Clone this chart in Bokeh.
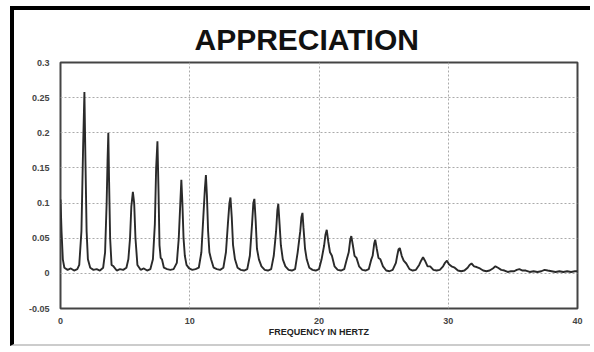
from bokeh.plotting import figure
from bokeh.models import Range1d, FixedTicker, CustomJSTickFormatter, ColumnDataSource
from bokeh.embed import file_html
from bokeh.resources import INLINE

title_text = "APPRECIATION"
x_label = "FREQUENCY IN HERTZ"
x_ticks = [0, 10, 20, 30, 40]
y_ticks = [-0.05, 0, 0.05, 0.1, 0.15, 0.2, 0.25, 0.3]

freq = [
    0, 0.08, 0.18, 0.3, 0.55, 0.8, 1.05, 1.3, 1.45, 1.62, 1.75, 1.85, 1.93, 2.02, 2.12, 2.3, 2.55, 2.8, 3.05, 3.3,
    3.45, 3.57, 3.64, 3.7, 3.76, 3.84, 3.95, 4.1, 4.35, 4.6, 4.85, 5.1, 5.25,
    5.38, 5.48, 5.6, 5.7, 5.8, 5.95, 6.2, 6.45, 6.7, 6.95, 7.15,
    7.3, 7.4, 7.5, 7.58, 7.66, 7.75, 7.85, 8.0, 8.25, 8.5, 8.75, 9.0,
    9.15, 9.27, 9.35, 9.43, 9.52, 9.62, 9.75, 9.95, 10.2, 10.45, 10.7, 10.9,
    11.05, 11.17, 11.25, 11.33, 11.42, 11.52, 11.65, 11.85, 12.1, 12.35, 12.6, 12.8,
    12.95, 13.07, 13.15, 13.25, 13.35, 13.5, 13.7, 13.95, 14.2, 14.45, 14.65,
    14.82, 14.92, 15.0, 15.1, 15.2, 15.35, 15.55, 15.8, 16.05, 16.3, 16.5,
    16.68, 16.78, 16.85, 16.95, 17.05, 17.2, 17.4, 17.65, 17.9, 18.15, 18.35,
    18.55, 18.64, 18.72, 18.8, 18.92, 19.05, 19.25, 19.5, 19.75, 20.0, 20.2,
    20.4, 20.5, 20.6, 20.72, 20.85, 21.0, 21.2, 21.45, 21.7, 21.95, 22.15,
    22.3, 22.42, 22.5, 22.62, 22.75, 22.9, 23.1, 23.35, 23.6, 23.85, 24.05,
    24.15, 24.27, 24.35, 24.47, 24.6, 24.75, 24.95, 25.2, 25.45, 25.7, 25.95,
    26.05, 26.15, 26.25, 26.4, 26.55, 26.75, 27.0, 27.25, 27.5, 27.75,
    27.9, 28.05, 28.2, 28.4, 28.6, 28.85, 29.1, 29.35, 29.6,
    29.75, 29.9, 30.05, 30.25, 30.5, 30.75, 31.0, 31.25, 31.5,
    31.65, 31.8, 32.0, 32.2, 32.45, 32.7, 32.95, 33.2, 33.45,
    33.65, 33.85, 34.1, 34.35, 34.6, 34.85, 35.1, 35.3,
    35.5, 35.75, 36.0, 36.3, 36.6, 36.9, 37.2, 37.45,
    37.7, 38.0, 38.3, 38.6, 38.9, 39.2, 39.5, 39.8, 40.0,
]
amplitude = [
    0.105, 0.06, 0.02, 0.008, 0.005, 0.007, 0.004, 0.006, 0.012, 0.06, 0.18, 0.258, 0.16, 0.06, 0.02, 0.008, 0.005, 0.006, 0.004, 0.008,
    0.03, 0.1, 0.16, 0.2, 0.13, 0.05, 0.012, 0.01, 0.004, 0.006, 0.005, 0.008, 0.02,
    0.05, 0.095, 0.116, 0.1, 0.05, 0.012, 0.005, 0.007, 0.004, 0.006, 0.02,
    0.07, 0.15, 0.188, 0.12, 0.04, 0.022, 0.02, 0.008, 0.006, 0.005, 0.006, 0.015,
    0.05, 0.1, 0.133, 0.1, 0.05, 0.025, 0.012, 0.007, 0.005, 0.006, 0.008, 0.03,
    0.08, 0.12, 0.14, 0.11, 0.06, 0.03, 0.02, 0.008, 0.006, 0.005, 0.008, 0.03,
    0.07, 0.1, 0.108, 0.08, 0.04, 0.02, 0.008, 0.005, 0.004, 0.006, 0.025,
    0.07, 0.1, 0.106, 0.075, 0.035, 0.02, 0.01, 0.005, 0.004, 0.006, 0.025,
    0.06, 0.09, 0.099, 0.07, 0.04, 0.02, 0.01, 0.005, 0.004, 0.006, 0.03,
    0.06, 0.08, 0.086, 0.065, 0.035, 0.02, 0.008, 0.005, 0.004, 0.006, 0.02,
    0.04, 0.055, 0.062, 0.045, 0.03, 0.025, 0.01, 0.005, 0.004, 0.006, 0.02,
    0.03, 0.048, 0.053, 0.04, 0.025, 0.022, 0.01, 0.005, 0.004, 0.006, 0.02,
    0.025, 0.042, 0.048, 0.035, 0.022, 0.02, 0.01, 0.004, 0.003, 0.005, 0.015,
    0.025, 0.034, 0.036, 0.025, 0.018, 0.014, 0.006, 0.004, 0.005, 0.012,
    0.018, 0.023, 0.018, 0.01, 0.01, 0.005, 0.004, 0.005, 0.01,
    0.015, 0.018, 0.013, 0.01, 0.008, 0.004, 0.003, 0.004, 0.008,
    0.012, 0.014, 0.01, 0.009, 0.007, 0.004, 0.003, 0.004, 0.007,
    0.01, 0.008, 0.005, 0.004, 0.002, 0.003, 0.003, 0.005,
    0.006, 0.004, 0.004, 0.002, 0.003, 0.002, 0.003, 0.005,
    0.004, 0.003, 0.002, 0.003, 0.002, 0.003, 0.002, 0.003, 0.003,
]

src = ColumnDataSource(data=dict(freq=freq, amplitude=amplitude))

# canvas sits inside a page frame: 10px left margin + 4px black border, 6px top margin + 4px black border
p = figure(width=580, height=340, output_backend="svg", toolbar_location=None,
           x_range=Range1d(0, 40), y_range=Range1d(-0.05, 0.3),
           min_border_left=46, min_border_right=17, min_border_top=52, min_border_bottom=42,
           title=title_text)
p.styles = {
    "margin-left": "10px",
    "margin-top": "6px",
    "border-top": "4px solid black",
    "border-left": "4px solid black",
    "border-bottom": "2px solid #cccccc",
}

p.title.text_font = "Liberation Sans"
p.title.text_font_size = "30px"
p.title.text_font_style = "bold"
p.title.text_color = "#111111"
p.title.align = "left"
p.title.offset = 134
p.title.standoff = 14

p.line("freq", "amplitude", source=src, line_color="#2a2a2a", line_width=1.9)

p.outline_line_color = "#444444"
p.outline_line_width = 2
p.background_fill_color = "white"
p.border_fill_color = "white"

for ax in (p.xaxis[0], p.yaxis[0]):
    ax.axis_line_color = None
    ax.major_tick_line_color = None
    ax.minor_tick_line_color = None
    ax.major_label_text_font = "Liberation Sans"
    ax.major_label_text_font_size = "9px"
    ax.major_label_text_font_style = "bold"
    ax.major_label_text_color = "#444444"

p.xaxis.ticker = FixedTicker(ticks=x_ticks)
p.yaxis.ticker = FixedTicker(ticks=y_ticks)
p.xaxis.formatter = CustomJSTickFormatter(code="return tick.toString();")
p.yaxis.formatter = CustomJSTickFormatter(code="return tick.toString();")
p.xaxis.major_label_standoff = 3
p.yaxis.major_label_standoff = 5
p.xaxis.axis_label = x_label
p.xaxis.axis_label_text_font = "Liberation Sans"
p.xaxis.axis_label_text_font_size = "9px"
p.xaxis.axis_label_text_font_style = "bold"
p.xaxis.axis_label_text_color = "#222222"
p.xaxis.axis_label_standoff = 0

p.xgrid.grid_line_color = "#aaaaaa"
p.xgrid.grid_line_dash = "2 2"
p.ygrid.grid_line_color = "#aaaaaa"
p.ygrid.grid_line_dash = "2 2"

open("out.html", "w").write(file_html(p, INLINE))
